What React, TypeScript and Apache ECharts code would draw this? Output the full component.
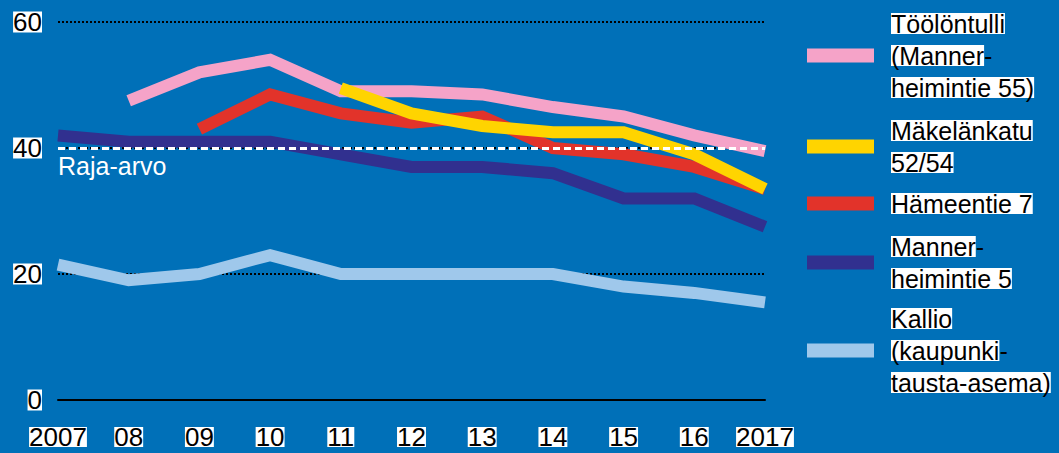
import React, { useEffect, useRef } from "react";
import * as echarts from "echarts";

const years = ["2007", "08", "09", "10", "11", "12", "13", "14", "15", "16", "2017"];
const yTicks = [0, 20, 40, 60];
const limitValue = 40;
const limitLabel = "Raja-arvo";

const toolontulli = [null, 47.5, 52, 54, 49, 49, 48.5, 46.5, 45, 42, 39.5];
const makelankatu = [null, null, null, null, 49.5, 45.5, 43.5, 42.5, 42.5, 39, 33.5];
const hameentie = [null, null, 43, 48.5, 45.5, 44, 45, 40, 39, 37, 33.5];
const mannerheimintie5 = [42, 41, 41, 41, 39, 37, 37, 36, 32, 32, 27.5];
const kallio = [21.5, 19, 20, 23, 20, 20, 20, 20, 18, 17, 15.5];

const seriesNames = [
  "Töölöntulli (Mannerheimintie 55)",
  "Mäkelänkatu 52/54",
  "Hämeentie 7",
  "Mannerheimintie 5",
  "Kallio (kaupunkitausta-asema)",
];
// legend lines: [text, trailing hyphen outside highlight]
const legendLines: Record<string, [string, string][]> = {
  "Töölöntulli (Mannerheimintie 55)": [["Töölöntulli", ""], ["(Manner", "-"], ["heimintie 55)", ""]],
  "Mäkelänkatu 52/54": [["Mäkelänkatu", ""], ["52/54", ""]],
  "Hämeentie 7": [["Hämeentie 7", ""]],
  "Mannerheimintie 5": [["Manner", "-"], ["heimintie 5", ""]],
  "Kallio (kaupunkitausta-asema)": [["Kallio", ""], ["(kaupunki", "-"], ["tausta-asema)", ""]],
};
const colors: Record<string, string> = {
  "Töölöntulli (Mannerheimintie 55)": "#f5a3c8",
  "Mäkelänkatu 52/54": "#ffd400",
  "Hämeentie 7": "#e2332a",
  "Mannerheimintie 5": "#31308f",
  "Kallio (kaupunkitausta-asema)": "#9fc8eb",
};
const seriesData: Record<string, (number | null)[]> = {
  "Töölöntulli (Mannerheimintie 55)": toolontulli,
  "Mäkelänkatu 52/54": makelankatu,
  "Hämeentie 7": hameentie,
  "Mannerheimintie 5": mannerheimintie5,
  "Kallio (kaupunkitausta-asema)": kallio,
};
// drawing order (last on top)
const drawOrder = [
  "Kallio (kaupunkitausta-asema)",
  "Mannerheimintie 5",
  "Hämeentie 7",
  "Töölöntulli (Mannerheimintie 55)",
  "Mäkelänkatu 52/54",
];

const FONT = "Liberation Sans";
const LEGEND_TOPS = [11, 118, 191, 234, 306];

export default function App() {
  const ref = useRef<HTMLDivElement>(null);
  useEffect(() => {
    document.body.style.margin = "0";
    document.body.style.background = "#0070b8";
    const chart = echarts.init(ref.current!, null, { renderer: "svg" });
    const series: any[] = drawOrder.map((name) => ({
      name,
      type: "line",
      data: seriesData[name],
      symbol: "none",
      connectNulls: false,
      color: colors[name],
      lineStyle: { width: 12, color: colors[name], cap: "butt", join: "miter" },
    }));
    series.push({
      name: "limit",
      type: "line",
      data: [],
      z: 10,
      markLine: {
        silent: true,
        symbol: "none",
        z: 10,
        lineStyle: { color: "#ffffff", width: 3, type: [7, 4] },
        label: {
          show: true,
          position: "insideStartBottom",
          formatter: limitLabel,
          color: "#ffffff",
          fontSize: 25,
          fontFamily: FONT,
          distance: [0, 5],
        },
        data: [{ yAxis: limitValue }],
      },
    });
    const legends = seriesNames.map((name, i) => ({
      orient: "vertical",
      left: 807,
      top: LEGEND_TOPS[i],
      padding: 0,
      itemWidth: 67,
      itemHeight: 14,
      icon: "rect",
      data: [name],
      selectedMode: false,
      formatter: (n: string) =>
        legendLines[n].map(([t, h]) => `{a|${t}}` + (h ? `{b|${h}}` : "")).join("\n"),
      textStyle: {
        fontSize: 25,
        fontFamily: FONT,
        color: "#000",
        padding: [0, 0, 0, 12],
        rich: {
          a: { fontSize: 25, fontFamily: FONT, color: "#000", backgroundColor: "#ffffff", lineHeight: 32, height: 21 },
          b: { fontSize: 25, fontFamily: FONT, color: "#000", lineHeight: 32 },
        },
      },
    }));
    chart.setOption({
      animation: false,
      backgroundColor: "#0070b8",
      textStyle: { fontFamily: FONT },
      grid: { left: 58, right: 294, top: 22, bottom: 53 },
      legend: legends,
      xAxis: {
        type: "category",
        data: years,
        boundaryGap: false,
        axisLine: { show: true, lineStyle: { color: "#000", width: 2 } },
        axisTick: { show: false },
        axisLabel: {
          color: "#000",
          fontSize: 26,
          fontFamily: FONT,
          backgroundColor: "#ffffff",
          lineHeight: 20,
          margin: 27,
          interval: 0,
        },
      },
      yAxis: {
        type: "value",
        min: yTicks[0],
        max: yTicks[yTicks.length - 1],
        interval: 20,
        axisLine: { show: false },
        axisTick: { show: false },
        splitLine: { lineStyle: { color: "#000", width: 2, type: [2, 2] } },
        axisLabel: {
          color: "#000",
          fontSize: 26,
          fontFamily: FONT,
          backgroundColor: "#ffffff",
          lineHeight: 21,
          margin: 16,
        },
      },
      series,
    });
    return () => chart.dispose();
  }, []);
  return <div ref={ref} style={{ width: 1059, height: 453 }} />;
}
